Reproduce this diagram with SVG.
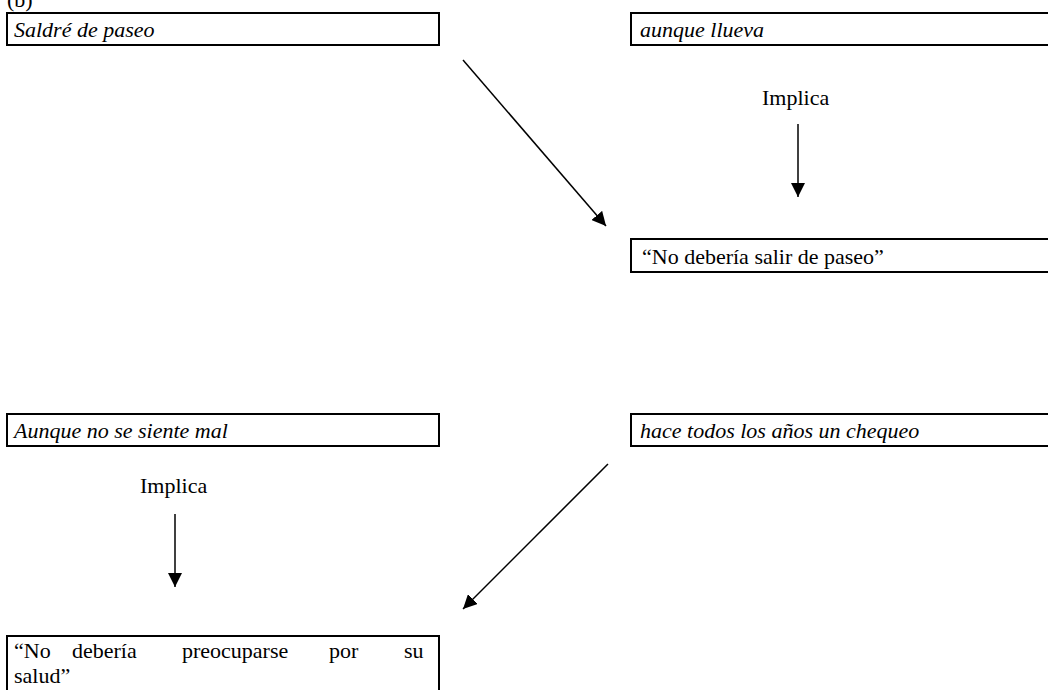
<svg xmlns="http://www.w3.org/2000/svg" width="1048" height="690" viewBox="0 0 1048 690">
<style>
.box{fill:#fff;stroke:#000;stroke-width:2}
.t{font-family:"Liberation Serif","Times New Roman",serif;font-size:22px;fill:#000}
.i{font-style:italic}
.c{stroke:#000;stroke-width:1.5;fill:none;marker-end:url(#ah)}
</style>
<defs>
<marker id="ah" viewBox="0 0 10 10" refX="10" refY="5" markerWidth="14" markerHeight="14" markerUnits="userSpaceOnUse" orient="auto">
<path d="M0,0 L10,5 L0,10 z" fill="#000"/>
</marker>
</defs>
<rect width="1048" height="690" fill="#fff"/>
<text class="t" x="7" y="7">(b)</text>
<g id="n1"><rect class="box" x="7" y="13" width="432" height="32"/><text class="t i" x="14" y="37">Saldré de paseo</text></g>
<g id="n2"><rect class="box" x="631" y="13" width="430" height="32"/><text class="t i" x="640" y="37">aunque llueva</text></g>
<g id="n3"><rect class="box" x="631" y="239" width="430" height="33"/><text class="t" x="642" y="264">“No debería salir de paseo”</text></g>
<g id="n4"><rect class="box" x="7" y="414" width="432" height="32"/><text class="t i" x="14" y="438">Aunque no se siente mal</text></g>
<g id="n5"><rect class="box" x="631" y="414" width="430" height="32"/><text class="t i" x="640" y="438">hace todos los años un chequeo</text></g>
<g id="n6"><rect class="box" x="7" y="636" width="432" height="70"/><text class="t" y="658"><tspan x="14">“No</tspan><tspan x="72">debería</tspan><tspan x="182">preocuparse</tspan><tspan x="329">por</tspan><tspan x="404">su</tspan></text><text class="t" x="14" y="683">salud”</text></g>
<g id="l1"><text class="t" x="762" y="105">Implica</text></g>
<g id="l2"><text class="t" x="140" y="493">Implica</text></g>
<g id="connectors">
<path class="c" d="M463,60 L606,226"/>
<path class="c" d="M798,124 L798,197"/>
<path class="c" d="M608,464 L463,609"/>
<path class="c" d="M175,514 L175,587"/>
</g>
</svg>
